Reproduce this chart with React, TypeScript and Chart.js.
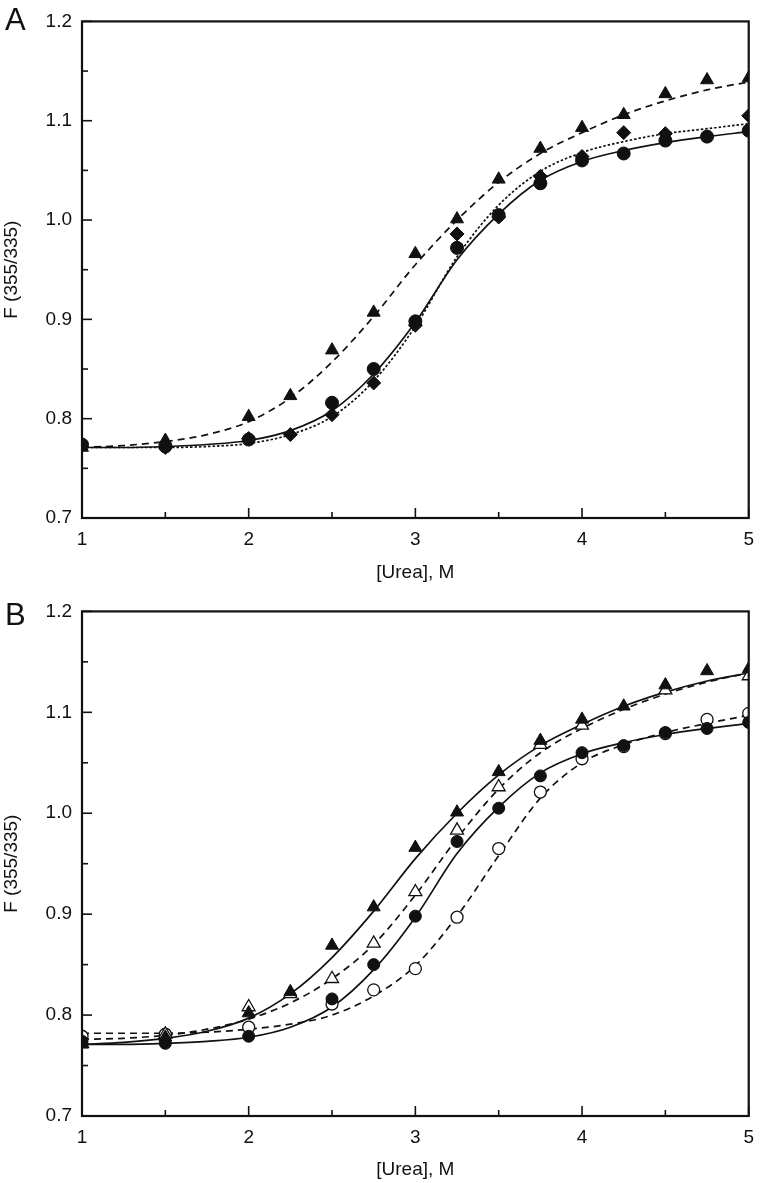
import React, { useEffect, useRef } from 'react';
import { Chart, registerables } from 'chart.js';

Chart.register(...registerables);

const FONT = '"Liberation Sans", Arial, Helvetica, sans-serif';
const INK = '#111';

// Axes
const xTicks = [1, 2, 3, 4, 5];
const yTicks = [0.7, 0.8, 0.9, 1.0, 1.1, 1.2];
const xTitle = '[Urea], M';
const yTitle = 'F (355/335)';

// Measured points — filled triangles
const triX = [1, 1.5, 2, 2.25, 2.5, 2.75, 3, 3.25, 3.5, 3.75, 4, 4.25, 4.5, 4.75, 5];
const triY = [0.771, 0.778, 0.802, 0.823, 0.869, 0.907, 0.966, 1.001, 1.041, 1.072, 1.093, 1.106, 1.127, 1.141, 1.143];

// Filled circles
const circX = [1, 1.5, 2, 2.5, 2.75, 3, 3.25, 3.5, 3.75, 4, 4.25, 4.5, 4.75, 5];
const circY = [0.774, 0.772, 0.779, 0.816, 0.85, 0.898, 0.972, 1.005, 1.037, 1.06, 1.067, 1.08, 1.084, 1.09];

// Filled diamonds (panel A)
const diaX = [1.5, 2, 2.25, 2.5, 2.75, 3, 3.25, 3.5, 3.75, 4, 4.25, 4.5, 5];
const diaY = [0.771, 0.78, 0.784, 0.804, 0.836, 0.894, 0.986, 1.003, 1.044, 1.064, 1.088, 1.087, 1.105];

// Open triangles (panel B)
const oTriX = [1, 1.5, 2, 2.25, 2.5, 2.75, 3, 3.25, 3.5, 3.75, 4, 4.5, 5];
const oTriY = [0.772, 0.781, 0.808, 0.821, 0.836, 0.871, 0.922, 0.983, 1.026, 1.068, 1.087, 1.122, 1.136];

// Open circles (panel B)
const oCircX = [1, 1.5, 2, 2.5, 2.75, 3, 3.25, 3.5, 3.75, 4, 4.25, 4.5, 4.75, 5];
const oCircY = [0.779, 0.781, 0.788, 0.811, 0.825, 0.846, 0.897, 0.965, 1.021, 1.054, 1.066, 1.079, 1.093, 1.099];

// Fitted curves at 0.25 M steps
const fitX = [1, 1.25, 1.5, 1.75, 2, 2.25, 2.5, 2.75, 3, 3.25, 3.5, 3.75, 4, 4.25, 4.5, 4.75, 5];
const fitTri = [0.771, 0.773, 0.777, 0.784, 0.797, 0.821, 0.857, 0.903, 0.955, 1.0, 1.038, 1.067, 1.088, 1.106, 1.12, 1.131, 1.139];
const fitCirc = [0.771, 0.771, 0.772, 0.774, 0.778, 0.788, 0.808, 0.845, 0.897, 0.96, 1.006, 1.04, 1.059, 1.07, 1.078, 1.084, 1.089];
const fitDia = [0.771, 0.771, 0.771, 0.772, 0.775, 0.784, 0.802, 0.838, 0.893, 0.963, 1.015, 1.049, 1.068, 1.079, 1.087, 1.092, 1.097];
const fitOTri = [0.776, 0.777, 0.78, 0.786, 0.796, 0.812, 0.836, 0.87, 0.919, 0.975, 1.024, 1.06, 1.084, 1.103, 1.118, 1.13, 1.139];
const fitOCirc = [0.782, 0.782, 0.782, 0.783, 0.786, 0.791, 0.8, 0.819, 0.849, 0.898, 0.958, 1.015, 1.05, 1.068, 1.08, 1.089, 1.097];

const pts = (xs: number[], ys: number[]) => xs.map((x, i) => ({ x, y: ys[i] }));

function marker(xs: number[], ys: number[], style: string, filled: boolean, radius: number) {
  return {
    data: pts(xs, ys),
    showLine: false,
    pointStyle: style,
    pointRadius: radius,
    pointBackgroundColor: filled ? INK : '#fff',
    pointBorderColor: INK,
    pointBorderWidth: filled ? 1 : 1.3,
    clip: 0,
  };
}

function curve(xs: number[], ys: number[], dash: number[]) {
  return {
    data: pts(xs, ys),
    showLine: true,
    pointRadius: 0,
    borderColor: INK,
    borderWidth: 1.7,
    borderDash: dash,
    cubicInterpolationMode: 'monotone',
    fill: false,
    clip: 0,
  };
}

const DASH = [7, 5];
const DOT = [2.5, 2];

const panelA = {
  letter: 'A',
  top: 0,
  height: 590,
  padTop: 12,
  xHeight: 72,
  titlePad: 6,
  letterBase: 30,
  datasets: [
    marker(circX, circY, 'circle', true, 6.5),
    marker(diaX, diaY, 'rectRot', true, 7),
    marker(triX, triY, 'triangle', true, 7.5),
    curve(fitX, fitCirc, []),
    curve(fitX, fitDia, DOT),
    curve(fitX, fitTri, DASH),
  ],
};

const panelB = {
  letter: 'B',
  top: 590,
  height: 593,
  padTop: 21,
  xHeight: 67,
  titlePad: 2,
  letterBase: 35,
  datasets: [
    marker(triX, triY, 'triangle', true, 7.5),
    marker(oTriX, oTriY, 'triangle', false, 7.5),
    marker(circX, circY, 'circle', true, 6),
    marker(oCircX, oCircY, 'circle', false, 6),
    curve(fitX, fitTri, []),
    curve(fitX, fitCirc, []),
    curve(fitX, fitOTri, DASH),
    curve(fitX, fitOCirc, DASH),
  ],
};

const framePlugin = {
  id: 'frameTicks',
  afterDraw(chart: any, _args: any, opts: any) {
    const { ctx, chartArea } = chart;
    const { left, right, top, bottom } = chartArea;
    const xs = chart.scales.x;
    const ys = chart.scales.y;
    ctx.save();
    ctx.strokeStyle = INK;
    ctx.lineWidth = 2.2;
    ctx.strokeRect(left, top, right - left, bottom - top);
    ctx.lineWidth = 1.6;
    const line = (x1: number, y1: number, x2: number, y2: number) => {
      ctx.beginPath();
      ctx.moveTo(x1, y1);
      ctx.lineTo(x2, y2);
      ctx.stroke();
    };
    const xv = xs.ticks.map((t: any) => t.value);
    xv.forEach((v: number, i: number) => {
      const p = xs.getPixelForValue(v);
      line(p, bottom, p, bottom - 10);
      if (i < xv.length - 1) {
        const m = xs.getPixelForValue((v + xv[i + 1]) / 2);
        line(m, bottom, m, bottom - 6);
      }
    });
    const yv = ys.ticks.map((t: any) => t.value);
    yv.forEach((v: number, i: number) => {
      const p = ys.getPixelForValue(v);
      line(left, p, left + 10, p);
      if (i < yv.length - 1) {
        const m = ys.getPixelForValue((v + yv[i + 1]) / 2);
        line(left, m, left + 6, m);
      }
    });
    ctx.fillStyle = INK;
    ctx.font = `31px ${FONT}`;
    ctx.textAlign = 'left';
    ctx.textBaseline = 'alphabetic';
    ctx.fillText(opts.letter, 5, opts.letterBase);
    ctx.restore();
  },
};

function Panel({ spec }: { spec: any }) {
  const ref = useRef<HTMLCanvasElement | null>(null);
  useEffect(() => {
    if (!ref.current) return;
    const chart = new Chart(ref.current, {
      type: 'scatter',
      data: { datasets: spec.datasets as any },
      plugins: [framePlugin as any],
      options: {
        animation: false,
        responsive: false,
        events: [],
        layout: { padding: { left: 0, right: 9, top: spec.padTop, bottom: 0 } },
        plugins: {
          legend: { display: false },
          tooltip: { enabled: false },
          frameTicks: { letter: spec.letter, letterBase: spec.letterBase },
        } as any,
        scales: {
          x: {
            type: 'linear',
            min: 1,
            max: 5,
            afterBuildTicks: (s: any) => {
              s.ticks = xTicks.map((v) => ({ value: v }));
            },
            afterFit: (s: any) => {
              s.height = spec.xHeight;
            },
            grid: { display: false, drawTicks: false },
            border: { display: false },
            ticks: {
              color: INK,
              padding: 10,
              maxRotation: 0,
              font: { family: FONT, size: 19 },
              callback: (v: any) => String(v),
            },
            title: {
              display: true,
              text: xTitle,
              color: INK,
              font: { family: FONT, size: 19 },
              padding: { top: 0, bottom: spec.titlePad },
            },
          },
          y: {
            type: 'linear',
            min: 0.7,
            max: 1.2,
            afterBuildTicks: (s: any) => {
              s.ticks = yTicks.map((v) => ({ value: v }));
            },
            afterFit: (s: any) => {
              s.width = 82;
            },
            grid: { display: false, drawTicks: false },
            border: { display: false },
            ticks: {
              color: INK,
              padding: 10,
              font: { family: FONT, size: 19 },
              callback: (v: any) => Number(v).toFixed(1),
            },
            title: {
              display: true,
              text: yTitle,
              color: INK,
              font: { family: FONT, size: 19 },
              padding: { top: 0, bottom: 0 },
            },
          },
        },
      },
    });
    return () => chart.destroy();
  }, []);
  return (
    <div style={{ position: 'absolute', left: 0, top: spec.top, width: 764, height: spec.height }}>
      <canvas ref={ref} width={764} height={spec.height} style={{ display: 'block' }} />
    </div>
  );
}

export default function App() {
  return (
    <div style={{ position: 'absolute', left: 0, top: 0, width: 764, height: 1183, background: '#fff' }}>
      <Panel spec={panelA} />
      <Panel spec={panelB} />
    </div>
  );
}
